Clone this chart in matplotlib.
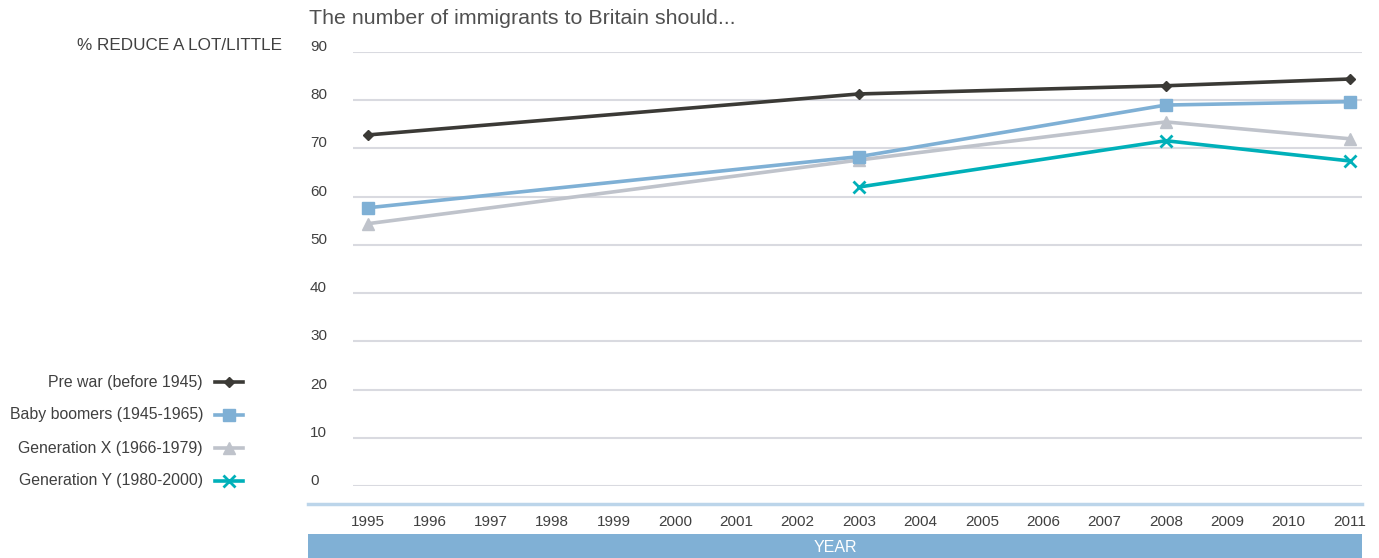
import matplotlib
matplotlib.use("Agg")
import matplotlib.pyplot as plt
import matplotlib.transforms as mtransforms
from matplotlib.lines import Line2D
from matplotlib.patches import Rectangle

plt.rcParams['font.family'] = ['Liberation Sans', 'DejaVu Sans']

# ---- data ----
years_all = list(range(1995, 2012))
survey_years = [1995, 2003, 2008, 2011]
pre_war = [72.8, 81.3, 83.0, 84.4]
baby_boomers = [57.7, 68.3, 79.0, 79.7]
gen_x = [54.4, 67.6, 75.5, 72.0]
gen_y_years = [2003, 2008, 2011]
gen_y = [62.0, 71.6, 67.4]
yticks = list(range(0, 100, 10))
series_labels = ["Pre war (before 1945)", "Baby boomers (1945-1965)",
                 "Generation X (1966-1979)", "Generation Y (1980-2000)"]

W, H = 1379, 558
fig = plt.figure(figsize=(W / 100, H / 100), dpi=100)

def fx(px):
    return px / W

def fy(py):
    return 1 - py / H

ax_l, ax_r, ax_t, ax_b = 353, 1362, 52, 486
ax = fig.add_axes([fx(ax_l), fy(ax_b), fx(ax_r) - fx(ax_l), fy(ax_t) - fy(ax_b)])

per_year = (1350 - 368) / 16
ax.set_xlim(1995 - (368 - ax_l) / per_year, 2011 + (ax_r - 1350) / per_year)
ax.set_ylim(0, 90)

for s in ax.spines.values():
    s.set_visible(False)
ax.set_yticks(yticks)
ax.yaxis.grid(True, color='#d9dae0', linewidth=1.5)
ax.set_axisbelow(True)
ax.tick_params(axis='y', length=0, labelleft=False)
ax.set_xticks(years_all)
ax.set_xticklabels([str(y) for y in years_all], fontsize=11, color='#404040')
ax.tick_params(axis='x', length=0, pad=21)

txt_color = '#404040'
c_pre = '#3b3a36'
c_bb = '#7fb0d5'
c_gx = '#bfc3cb'
c_gy = '#00b0b9'

lw = 2.6
styles = [
    dict(color=c_pre, marker='D', markersize=5),
    dict(color=c_bb, marker='s', markersize=8),
    dict(color=c_gx, marker='^', markersize=8),
    dict(color=c_gy, marker='x', markersize=8, markeredgewidth=2),
]
ax.plot(survey_years, gen_x, lw=lw, clip_on=False, zorder=3, **styles[2])
ax.plot(survey_years, baby_boomers, lw=lw, clip_on=False, zorder=4, **styles[1])
ax.plot(gen_y_years, gen_y, lw=lw, clip_on=False, zorder=5, **styles[3])
ax.plot(survey_years, pre_war, lw=lw, clip_on=False, zorder=6, **styles[0])

# y tick labels (left aligned, sitting just above gridline)
trans = mtransforms.blended_transform_factory(fig.transFigure, ax.transData) + \
    mtransforms.ScaledTranslation(0, 5 / 100, fig.dpi_scale_trans)
for v in yticks:
    fig.text(fx(310), v, str(v), transform=trans, ha='left', va='center',
             fontsize=11, color=txt_color)

# title and axis label
fig.text(fx(309), fy(19), "The number of immigrants to Britain should...",
         ha='left', va='center', fontsize=15.4, color='#505050')
fig.text(fx(282), fy(46), "% REDUCE A LOT/LITTLE", ha='right', va='center',
         fontsize=12.3, color=txt_color)

# x axis line and YEAR band
fig.add_artist(Line2D([fx(308), fx(1362)], [fy(504), fy(504)], color='#bcd5ea',
                      linewidth=2.5, transform=fig.transFigure))
fig.add_artist(Rectangle((fx(308), fy(558)), fx(1362) - fx(308), fy(534) - fy(558),
                         transform=fig.transFigure, facecolor='#80b0d5',
                         edgecolor='none'))
fig.text((fx(308) + fx(1362)) / 2, fy(547), "YEAR", ha='center', va='center',
         fontsize=11.5, color='white')

# legend (manual)
leg_y = [382, 415, 448, 481]
for lab, st, py in zip(series_labels, styles, leg_y):
    fig.text(fx(203), fy(py), lab, ha='right', va='center', fontsize=11.45,
             color=txt_color)
    fig.add_artist(Line2D([fx(215), fx(243)], [fy(py), fy(py)], linewidth=lw,
                          transform=fig.transFigure, color=st['color']))
    kw = {k: v for k, v in st.items() if k != 'color'}
    fig.add_artist(Line2D([fx(229)], [fy(py)], linestyle='none',
                          transform=fig.transFigure, color=st['color'],
                          markerfacecolor=st['color'], markeredgecolor=st['color'], **kw))

fig.savefig("out.png", dpi=100)
